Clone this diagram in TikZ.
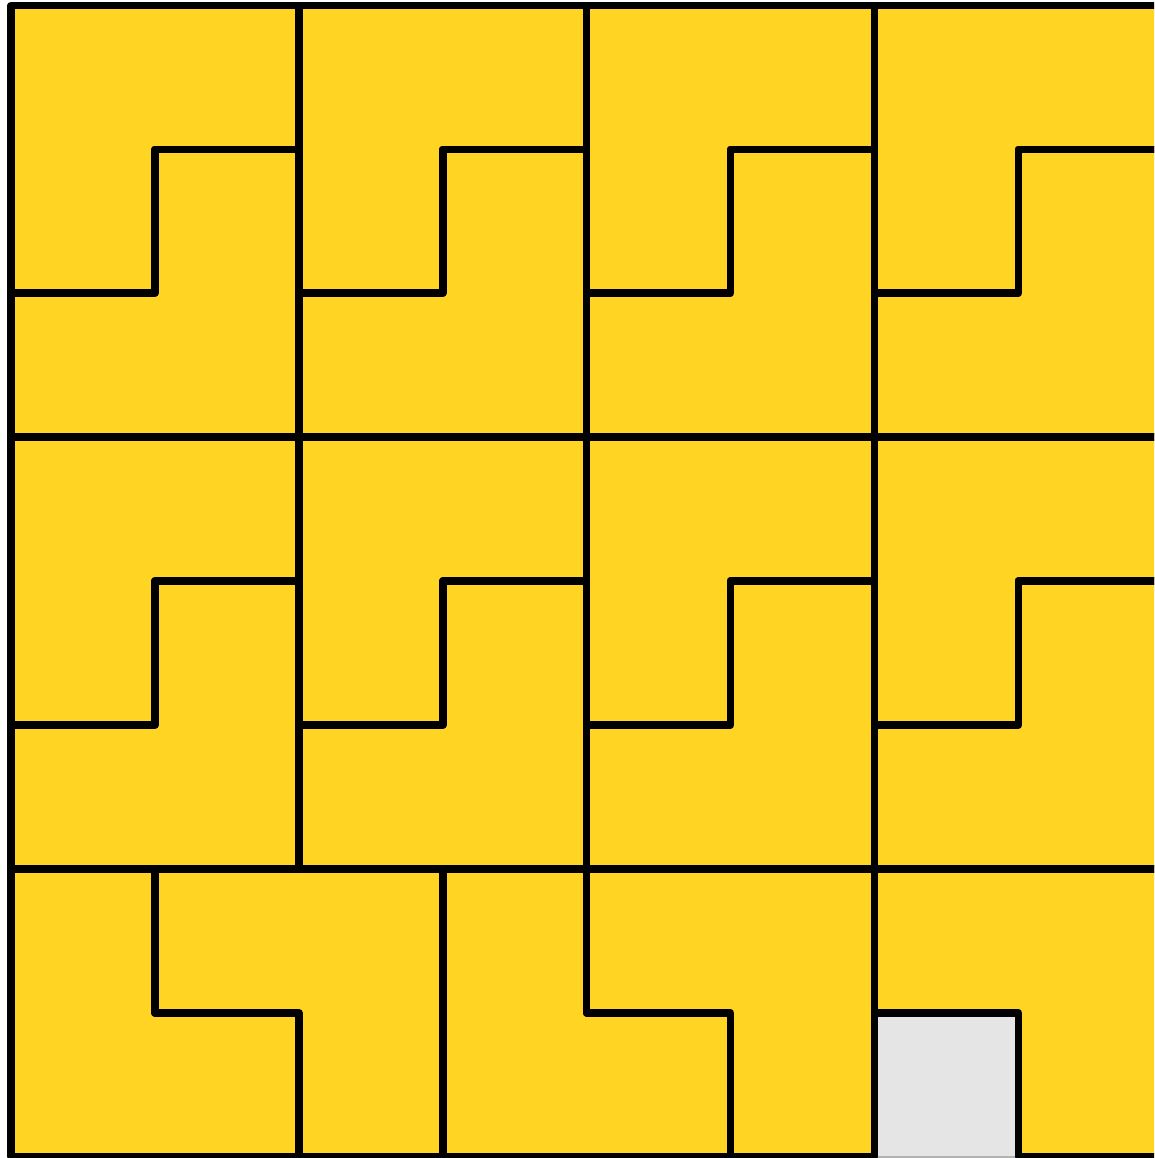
\documentclass[tikz,border=0pt]{standalone}
\usepackage{tikz}
\usepackage{xcolor}
\definecolor{tileyellow}{HTML}{FFD422}
\definecolor{holegray}{HTML}{E5E5E5}
\tikzset{
  tile/.style={fill=tileyellow,draw=black,line width=1.5pt,line join=round},
  hole/.style={fill=holegray,draw=gray!60,line width=0.4pt}
}

\begin{document}
\begin{tikzpicture}
  \clip (-0.0764,-0.009) rectangle (7.943,8.038);
  %% rows counted from the top: y = 8 - row
  \begin{scope}[yshift=8cm,yscale=-1]
    %% ---- 2x3 blocks, two L-trominoes each ----
    \foreach \bx in {0,2,4,6}{
      \foreach \by in {0,3}{
        \draw[tile] (\bx,\by) -- ++(2,0) -- ++(0,1) -- ++(-1,0)
          -- ++(0,1) -- ++(-1,0) -- cycle;
        \draw[tile] (\bx+1,\by+1) -- ++(1,0) -- ++(0,2) -- ++(-2,0)
          -- ++(0,-1) -- ++(1,0) -- cycle;
      }
    }
    %% ---- bottom two rows ----
    \fill[hole] (6,7) rectangle (7,8);
    \draw[tile] (0,6) -- (1,6) -- (1,7) -- (2,7) -- (2,8) -- (0,8) -- cycle;
    \draw[tile] (1,6) -- (3,6) -- (3,8) -- (2,8) -- (2,7) -- (1,7) -- cycle;
    \draw[tile] (3,6) -- (4,6) -- (4,7) -- (5,7) -- (5,8) -- (3,8) -- cycle;
    \draw[tile] (4,6) -- (6,6) -- (6,8) -- (5,8) -- (5,7) -- (4,7) -- cycle;
    \draw[tile] (6,6) -- (8,6) -- (8,8) -- (7,8) -- (7,7) -- (6,7) -- cycle;
  \end{scope}
\end{tikzpicture}
\end{document}
